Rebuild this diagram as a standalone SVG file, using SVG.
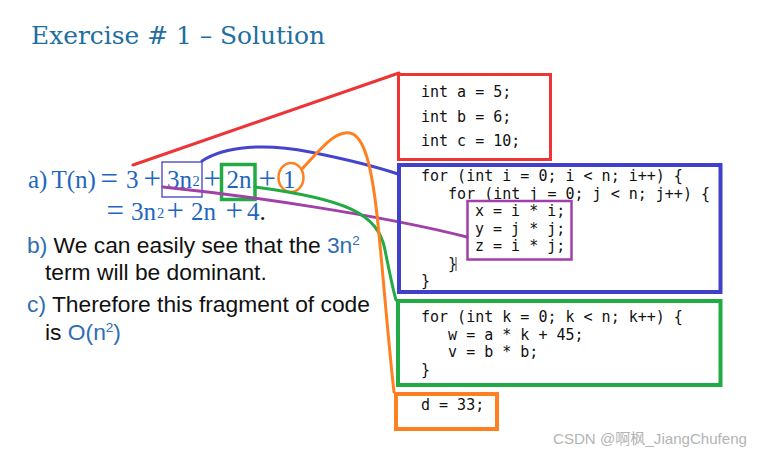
<svg xmlns="http://www.w3.org/2000/svg" width="762" height="457" viewBox="0 0 762 457">
<style>
.title{font-family:"DejaVu Serif",serif;font-size:24.5px;fill:#226ea0}
.ser{font-family:"Liberation Serif",serif;font-size:25px;fill:#1e66c0}
.op{font-family:"Liberation Serif",serif;font-size:31px;fill:#1e66c0}
.serS{font-family:"Liberation Serif",serif;font-size:14.5px;fill:#1e66c0}
.sans{font-family:"Liberation Sans",Arial,sans-serif;font-size:22.8px;fill:#111}
.blu{fill:#2f6db5}
.code{font-family:"DejaVu Sans Mono",monospace;font-size:15px;fill:#111;white-space:pre}
.wm{font-family:"Liberation Sans","Noto Sans CJK SC",sans-serif;font-size:14.5px;fill:#b4b4b4}
.box{fill:none}
.conn{fill:none;stroke-width:3;stroke-linecap:round}
</style>
<rect width="762" height="457" fill="#fff"/>
<text class="title" x="31" y="44" textLength="294" lengthAdjust="spacingAndGlyphs">Exercise # 1 – Solution</text>

<g id="equation">
<text class="ser" x="28" y="188">a)</text>
<text class="ser" x="51.5" y="188">T(n)</text>
<text class="op" x="100.5" y="188.5">=</text>
<text class="ser" x="126" y="188">3</text>
<text class="op" x="143.5" y="188.5">+</text>
<text class="ser" x="167" y="188">3n</text>
<text class="serS" x="192.5" y="186">2</text>
<text class="op" x="203.5" y="188.5">+</text>
<text class="ser" x="226.5" y="188">2n</text>
<text class="op" x="258.5" y="188.5">+</text>
<text class="ser" x="283" y="188">1</text>
<rect x="162" y="162" width="40" height="35" fill="none" stroke="#4040c0" stroke-width="1.3"/>
<rect x="221.5" y="164.5" width="33.5" height="35" fill="none" stroke="#22aa44" stroke-width="3.5"/>
<ellipse cx="291" cy="177.5" rx="12.5" ry="14.5" fill="none" stroke="#ff8020" stroke-width="2.5"/>
<text class="op" x="106.5" y="220.5">=</text>
<text class="ser" x="131" y="220">3n</text>
<text class="serS" x="157" y="218">2</text>
<text class="op" x="166.5" y="220.5">+</text>
<text class="ser" x="191" y="220">2n</text>
<text class="op" x="225.5" y="220.5">+</text>
<text class="ser" x="247" y="220">4<tspan fill="#111">.</tspan></text>
</g>

<g id="explanation">
<text class="sans" x="27" y="253"><tspan class="blu">b)</tspan> We can easily see that the <tspan class="blu">3n</tspan><tspan class="blu" font-size="13.5" dy="-8">2</tspan></text>
<text class="sans" x="45" y="280">term will be dominant.</text>
<text class="sans" x="27" y="312"><tspan class="blu">c)</tspan> Therefore this fragment of code</text>
<text class="sans" x="45" y="340">is <tspan class="blu">O(n</tspan><tspan class="blu" font-size="13.5" dy="-8">2</tspan><tspan class="blu" dy="8">)</tspan></text>
</g>

<g id="connectors">
<path class="conn" stroke="#ee3535" d="M133,165 L399,73"/>
<path class="conn" stroke="#4444cc" d="M202,161 C225,146 265,143 310,152 C350,160 380,168 398,174"/>
<path class="conn" stroke="#a040a8" d="M163,187 C250,196 380,215 467,237"/>
<path class="conn" stroke="#22aa44" d="M255,187 C345,199 378,213 385,250 C390,275 393,290 396,300"/>
<path class="conn" stroke="#ff8020" d="M302,169 C320,150 335,130 350,133 C365,136 372,170 377,215 C382,260 388,340 394,392"/>
</g>

<g id="init-block">
<rect class="box" x="398.5" y="74.5" width="152" height="85" stroke="#ee3535" stroke-width="3"/>
<text class="code" x="421" y="97">int a = 5;</text>
<text class="code" x="421" y="122">int b = 6;</text>
<text class="code" x="421" y="146">int c = 10;</text>
</g>

<g id="nested-loop">
<rect class="box" x="399" y="165" width="321.5" height="127" stroke="#4040c8" stroke-width="4"/>
<text class="code" x="421" y="181">for (int i = 0; i &lt; n; i++) {</text>
<text class="code" x="421" y="198.5">   for (int j = 0; j &lt; n; j++) {</text>
<text class="code" x="421" y="268.5">   }</text>
<line x1="456" y1="257" x2="456" y2="271" stroke="#444" stroke-width="1"/>
<text class="code" x="421" y="286">}</text>
</g>

<g id="inner-body">
<rect class="box" x="467.5" y="201" width="104" height="58.5" stroke="#a040a8" stroke-width="2.5"/>
<text class="code" x="475" y="216">x = i * i;</text>
<text class="code" x="475" y="233.5">y = j * j;</text>
<text class="code" x="475" y="251">z = i * j;</text>
</g>

<g id="single-loop">
<rect class="box" x="398" y="301" width="322.5" height="84" stroke="#22aa44" stroke-width="4"/>
<text class="code" x="421" y="322">for (int k = 0; k &lt; n; k++) {</text>
<text class="code" x="421" y="339.5">   w = a * k + 45;</text>
<text class="code" x="421" y="357">   v = b * b;</text>
<text class="code" x="421" y="374.5">}</text>
</g>

<g id="final-stmt">
<rect class="box" x="396" y="394" width="101" height="35" stroke="#ff8020" stroke-width="4"/>
<text class="code" x="421" y="410">d = 33;</text>
</g>

<text class="wm" x="553" y="444" textLength="194" lengthAdjust="spacingAndGlyphs">CSDN @啊枫_JiangChufeng</text>
</svg>
